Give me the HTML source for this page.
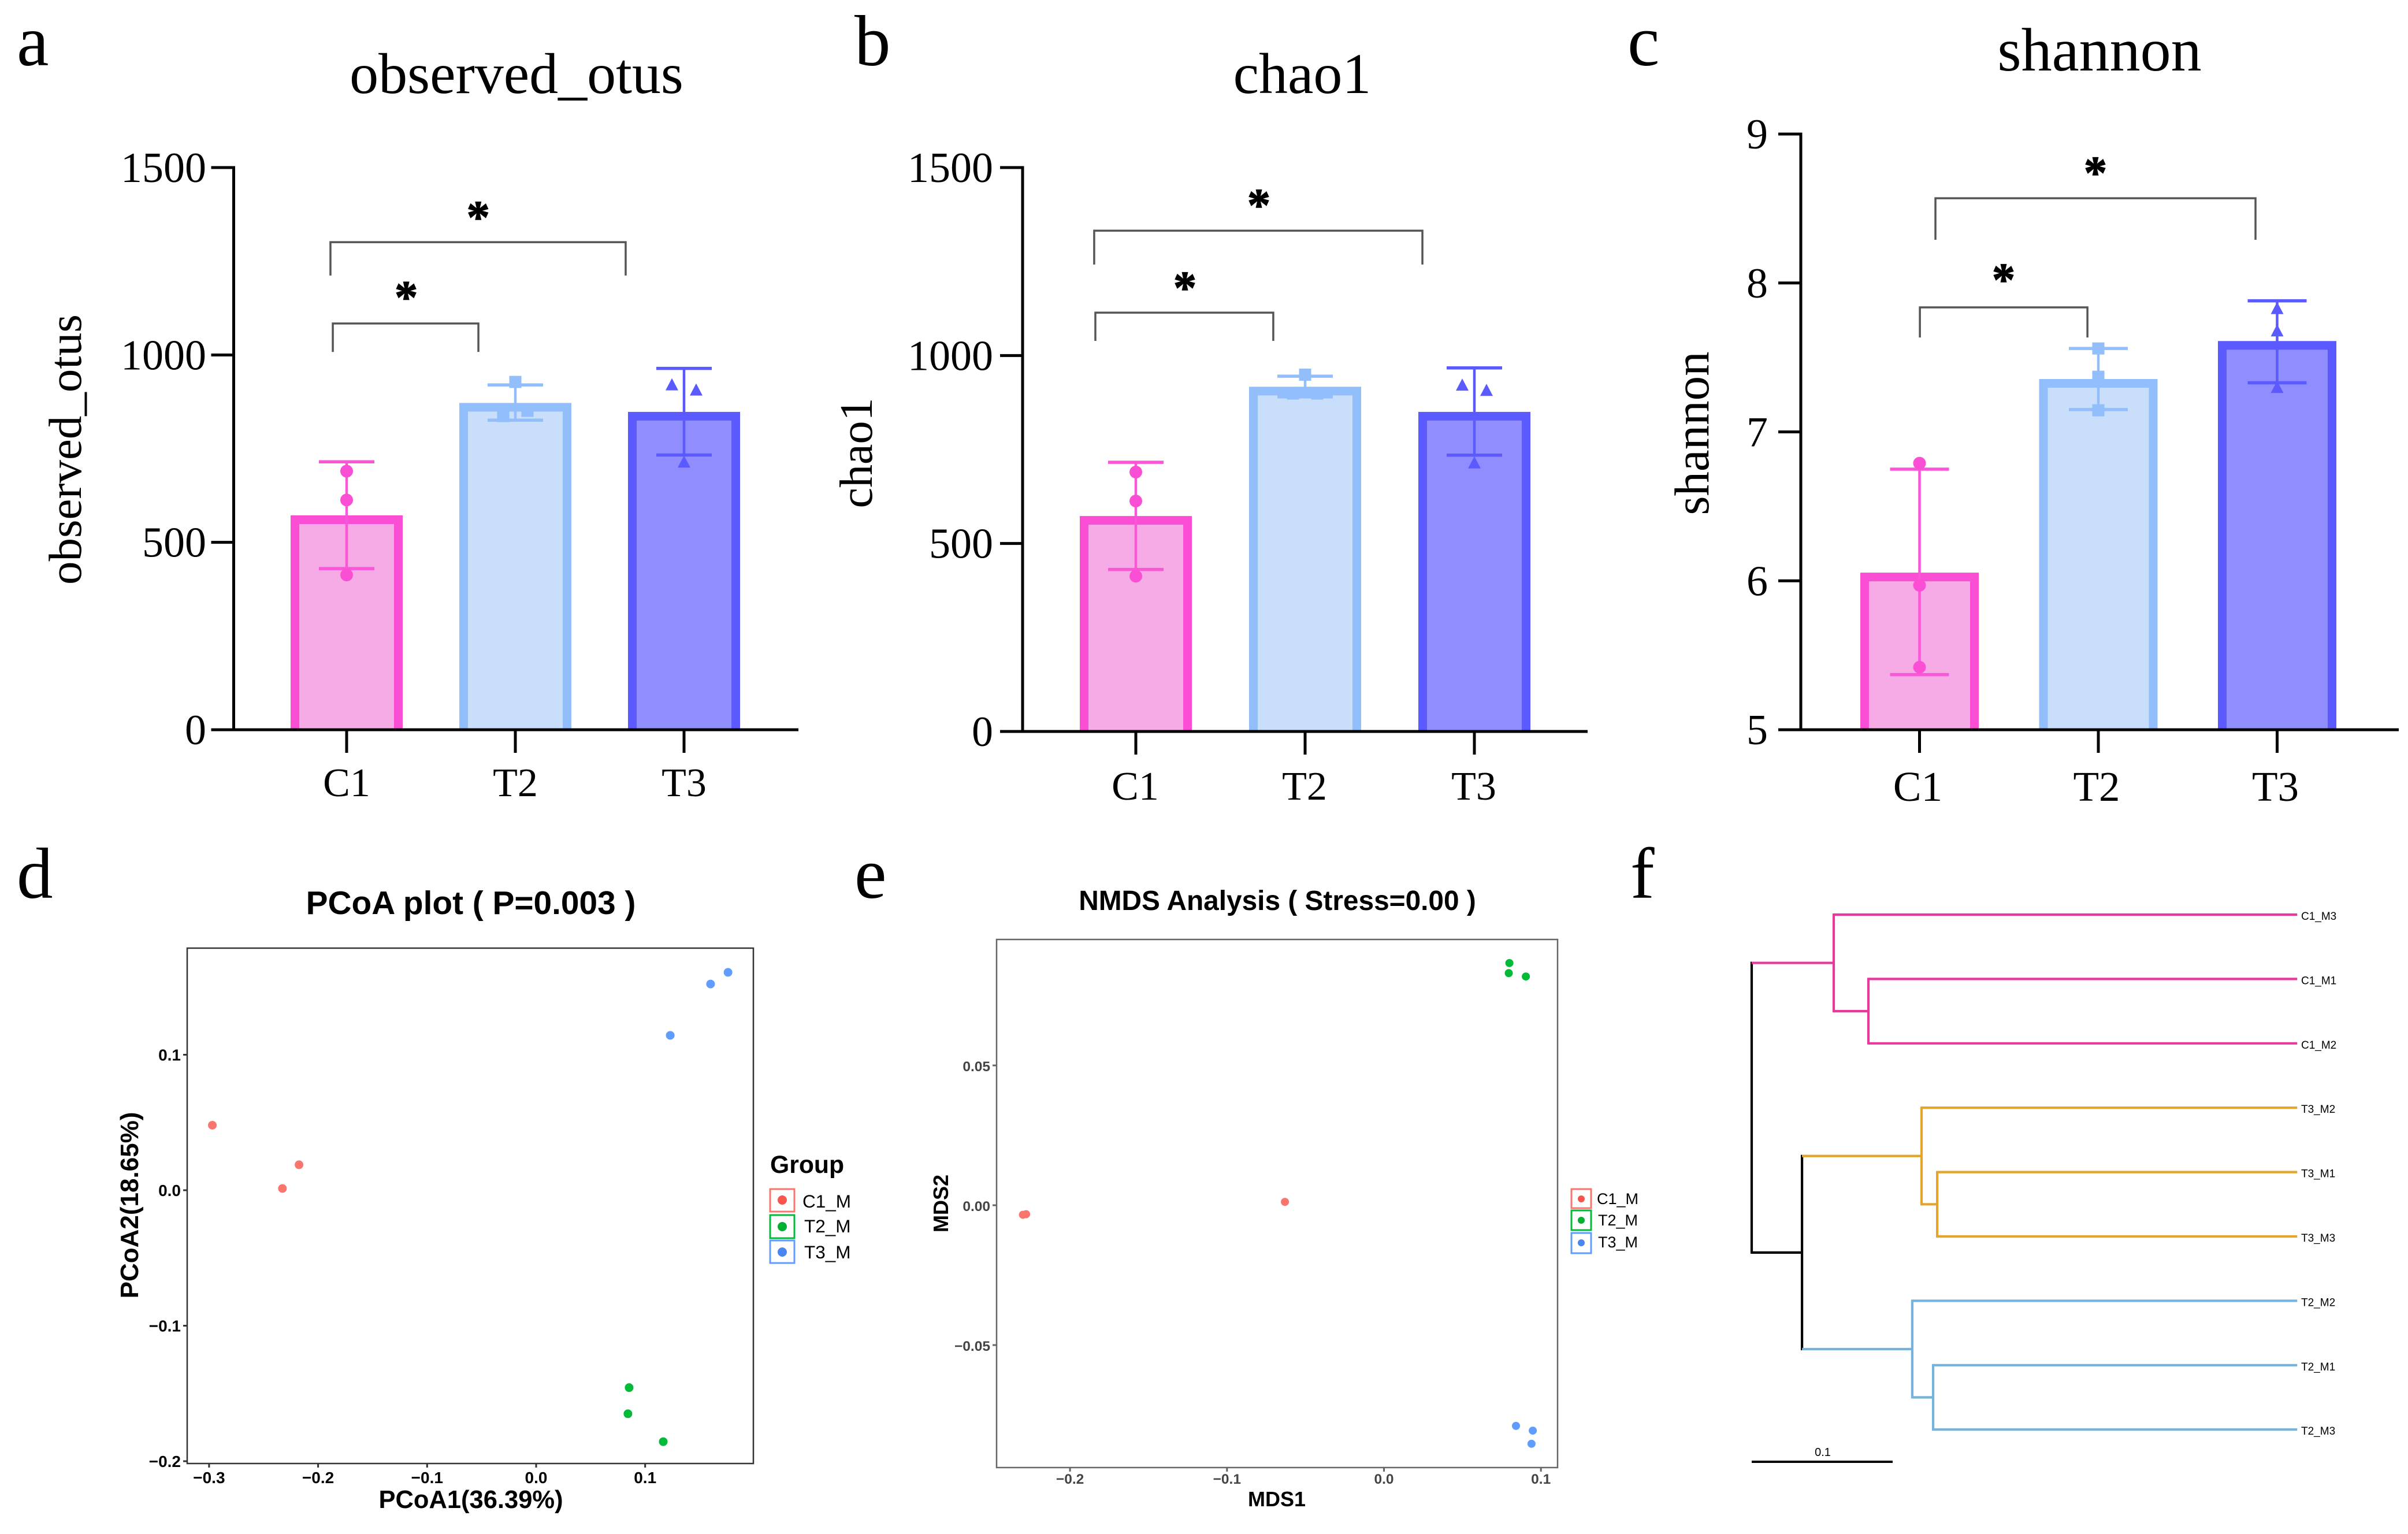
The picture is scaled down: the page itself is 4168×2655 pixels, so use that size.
<!DOCTYPE html>
<html lang="en">
<head>
<meta charset="utf-8">
<title>Alpha diversity, PCoA, NMDS and clustering tree</title>
<style>
html,body{margin:0;padding:0;background:#fff;}
#figure{display:block;width:4168px;height:2655px;background:#fff;overflow:hidden;}
.serif{font-family:"Liberation Serif",serif;fill:#000;}
.sans{font-family:"Liberation Sans",sans-serif;fill:#000;}
.bold{font-weight:700;}
</style>
</head>
<body>
<svg id="figure" xmlns="http://www.w3.org/2000/svg" width="4168" height="2655" viewBox="0 0 4168 2655">
  <rect x="0" y="0" width="4168" height="2655" fill="#fff"/>

  <text class="serif" x="29" y="113" font-size="125">a</text>
  <text class="serif" x="1479" y="113" font-size="125">b</text>
  <text class="serif" x="2817" y="113" font-size="125">c</text>
  <text class="serif" x="29" y="1554" font-size="125">d</text>
  <text class="serif" x="1479" y="1554" font-size="125">e</text>
  <text class="serif" x="2822" y="1554" font-size="125">f</text>

  <text class="serif" x="894" y="161" font-size="100" text-anchor="middle">observed_otus</text>
  <text class="serif" x="2254" y="161" font-size="100" text-anchor="middle">chao1</text>
  <text class="serif" x="3634" y="122" font-size="106" text-anchor="middle">shannon</text>

  <text class="serif" transform="translate(140 778) rotate(-90)" font-size="81" text-anchor="middle">observed_otus</text>
  <text class="serif" transform="translate(1509 784) rotate(-90)" font-size="80" text-anchor="middle">chao1</text>
  <text class="serif" transform="translate(2957 750) rotate(-90)" font-size="85" text-anchor="middle">shannon</text>

  <text class="sans bold" x="815" y="1582" font-size="56.8" text-anchor="middle">PCoA plot ( P=0.003 )</text>
  <text class="sans bold" x="815" y="2610" font-size="43.5" text-anchor="middle">PCoA1(36.39%)</text>
  <text class="sans bold" transform="translate(239 2086) rotate(-90)" font-size="44" text-anchor="middle">PCoA2(18.65%)</text>

  <g>
    <text class="sans bold" x="1333" y="2030" font-size="42.7">Group</text>
    <rect x="1333" y="2058" width="42" height="39" fill="#fff" stroke="#F8766D" stroke-width="3"/>
    <circle cx="1354" cy="2077" r="8" fill="#F8564D"/>
    <text class="sans" x="1389" y="2090" font-size="31.5">C1_M</text>
    <rect x="1333" y="2103" width="42" height="40" fill="#fff" stroke="#00BA38" stroke-width="3"/>
    <circle cx="1354" cy="2123" r="8" fill="#00B030"/>
    <text class="sans" x="1392" y="2133" font-size="31.5">T2_M</text>
    <rect x="1333" y="2147" width="42" height="39" fill="#fff" stroke="#619CFF" stroke-width="3"/>
    <circle cx="1354" cy="2167" r="8" fill="#4A86F0"/>
    <text class="sans" x="1392" y="2178" font-size="31.5">T3_M</text>
  </g>

  <text class="sans bold" x="2211" y="1575" font-size="47.8" text-anchor="middle">NMDS Analysis ( Stress=0.00 )</text>
  <text class="sans bold" x="2210" y="2607" font-size="36" text-anchor="middle">MDS1</text>
  <text class="sans bold" transform="translate(1641 2083) rotate(-90)" font-size="36" text-anchor="middle">MDS2</text>

  <g>
    <rect x="2720" y="2058" width="34" height="33" fill="#fff" stroke="#F8766D" stroke-width="3"/>
    <circle cx="2737" cy="2075" r="6" fill="#F8564D"/>
    <text class="sans" x="2764" y="2084" font-size="27">C1_M</text>
    <rect x="2720" y="2095" width="34" height="34" fill="#fff" stroke="#00BA38" stroke-width="3"/>
    <circle cx="2737" cy="2112" r="6" fill="#00B030"/>
    <text class="sans" x="2766" y="2121" font-size="27">T2_M</text>
    <rect x="2720" y="2134" width="34" height="35" fill="#fff" stroke="#619CFF" stroke-width="3"/>
    <circle cx="2737" cy="2151" r="6" fill="#4A86F0"/>
    <text class="sans" x="2766" y="2159" font-size="27">T3_M</text>
  </g>

  <g id="plots"></g>
</svg>

<script>
/* ---------- bar chart data ---------- */
const barCategories = ['C1', 'T2', 'T3'];

const otusTicks = [0, 500, 1000, 1500];
const otusMeans = [572, 872, 848];
const otusErrLow = [430, 826, 733];
const otusErrHigh = [715, 920, 964];
const otusReplicates = [[690, 613, 413], [928, 837, 851], [921, 907, 715]];

const chaoTicks = [0, 500, 1000, 1500];
const chaoMeans = [573, 917, 850];
const chaoErrLow = [431, 890, 735];
const chaoErrHigh = [716, 945, 967];
const chaoReplicates = [[690, 613, 413], [949, 899, 899], [922, 908, 715]];

const shannonTicks = [5, 6, 7, 8, 9];
const shannonMeans = [6.055, 7.355, 7.61];
const shannonErrLow = [5.37, 7.15, 7.33];
const shannonErrHigh = [6.75, 7.56, 7.88];
const shannonReplicates = [[6.79, 5.97, 5.42], [7.56, 7.37, 7.145], [7.83, 7.68, 7.30]];

/* ---------- scatter data ---------- */
const scatterGroups = ['C1_M', 'T2_M', 'T3_M'];

const pcoaXTicks = [-0.3, -0.2, -0.1, 0, 0.1];
const pcoaYTicks = [-0.2, -0.1, 0, 0.1];
const pcoaC1X = [-0.297, -0.2175, -0.2327];
const pcoaC1Y = [0.048, 0.0188, 0.0013];
const pcoaT2X = [0.0853, 0.0842, 0.1166];
const pcoaT2Y = [-0.1457, -0.165, -0.1856];
const pcoaT3X = [0.176, 0.160, 0.123];
const pcoaT3Y = [0.1608, 0.1522, 0.1143];

const nmdsXTicks = [-0.2, -0.1, 0, 0.1];
const nmdsYTicks = [-0.05, 0, 0.05];
const nmdsC1X = [-0.230, -0.228, -0.0631];
const nmdsC1Y = [-0.0034, -0.0032, 0.0012];
const nmdsT2X = [0.0799, 0.0795, 0.0904];
const nmdsT2Y = [0.0866, 0.083, 0.0818];
const nmdsT3X = [0.0841, 0.0948, 0.0940];
const nmdsT3Y = [-0.0789, -0.0806, -0.0853];

/* ---------- tree data ---------- */
const treeLeaves = ['C1_M3', 'C1_M1', 'C1_M2', 'T3_M2', 'T3_M1', 'T3_M3', 'T2_M2', 'T2_M1', 'T2_M3'];
const treeLeafDepths = [0.387, 0.387, 0.387, 0.387, 0.387, 0.387, 0.387, 0.387, 0.387];
/* merges reference leaves (index) or earlier merges (9 + merge index) */
const treeMergeLeft = [1, 0, 4, 3, 7, 6, 12, 10];
const treeMergeRight = [2, 9, 5, 11, 8, 13, 14, 15];
const treeMergeDepths = [0.0828, 0.0582, 0.1316, 0.1205, 0.1287, 0.1139, 0.0357, 0];
const treeMergeClades = ['pink', 'pink', 'orange', 'orange', 'blue', 'blue', 'black', 'black'];
const treeScaleLength = [0.1];

/* ---------- helpers ---------- */
const SVG_NS = 'http://www.w3.org/2000/svg';
const plots = document.getElementById('plots');

function mk(parent, tag, attrs, text) {
  const el = document.createElementNS(SVG_NS, tag);
  for (const k in attrs) el.setAttribute(k, attrs[k]);
  if (text !== undefined) el.textContent = text;
  parent.appendChild(el);
  return el;
}
function fmtTick(v, digits) {
  return (v < 0 ? '\u2212' : '') + Math.abs(v).toFixed(digits);
}

/* ---------- bar panels ---------- */
const barStroke = ['#FA4FD4', '#92BEFB', '#5A5AFF'];
const barFill = ['#F6ABE7', '#C9DEFA', '#908DFF'];
const barLine = ['#FB55D8', '#92BEFB', '#5A5AFF'];

function drawBarPanel(name, cfg, ticks, means, low, high, reps) {
  const g = mk(plots, 'g', {});
  
  
  const dom0 = ticks[0];
  const dom1 = ticks[ticks.length - 1];
  const yS = v => cfg.y0 - (v - dom0) / (dom1 - dom0) * (cfg.y0 - cfg.yTop);
  const xS = i => cfg.c0 + i * cfg.step;
  const sw = 15;

  barCategories.forEach((cat, i) => {
    const left = xS(i) - cfg.barW / 2;
    const right = xS(i) + cfg.barW / 2;
    const top = yS(means[i]);
    const fill = mk(g, 'rect', {x: left + sw / 2, y: top + sw / 2, width: cfg.barW - sw, height: cfg.y0 - top - sw / 2, fill: barFill[i]});
    
    
    const outline = mk(g, 'path', {d: 'M' + (left + sw / 2) + ' ' + cfg.y0 + 'V' + (top + sw / 2) + 'H' + (right - sw / 2) + 'V' + cfg.y0, fill: 'none', stroke: barStroke[i], 'stroke-width': sw});
    
    
    const cx = xS(i);
    const stem = mk(g, 'line', {x1: cx, x2: cx, y1: yS(low[i]), y2: yS(high[i]), stroke: barLine[i], 'stroke-width': 4.5});
    
    
    [low[i], high[i]].forEach(v => {
      const cap = mk(g, 'line', {x1: cx - cfg.cap / 2, x2: cx + cfg.cap / 2, y1: yS(v), y2: yS(v), stroke: barLine[i], 'stroke-width': 5.5});
      
      
    });
    reps[i].forEach((v, j) => {
      const mx = cx + cfg.jitter[i][j] * 21;
      const my = yS(v);
      let m;
      if (i === 0) m = mk(g, 'circle', {cx: mx, cy: my, r: 11, fill: barStroke[i]});
      else if (i === 1) m = mk(g, 'rect', {x: mx - 10.5, y: my - 10.5, width: 21, height: 21, fill: barStroke[i]});
      else m = mk(g, 'path', {d: 'M' + mx + ' ' + (my - 11) + 'L' + (mx + 11) + ' ' + (my + 10) + 'L' + (mx - 11) + ' ' + (my + 10) + 'Z', fill: barStroke[i]});
      
      
    });
    const tick = mk(g, 'line', {x1: cx, x2: cx, y1: cfg.y0, y2: cfg.y0 + 40, stroke: '#000', 'stroke-width': 5});
    
    
    const lab = mk(g, 'text', {x: cx + cfg.xLabelShift, y: cfg.xLabelY, 'font-size': cfg.xFont, 'text-anchor': 'middle', class: 'serif'}, cat);
    
    
  });

  const yAxis = mk(g, 'line', {x1: cfg.x0, x2: cfg.x0, y1: cfg.yTop - 2.5, y2: cfg.y0 + 2.5, stroke: '#000', 'stroke-width': 5});
  
  
  const xAxis = mk(g, 'line', {x1: cfg.x0 - 39, x2: cfg.xRight, y1: cfg.y0, y2: cfg.y0, stroke: '#000', 'stroke-width': 5});
  
  

  ticks.forEach(v => {
    const t = mk(g, 'line', {x1: cfg.x0 - 39, x2: cfg.x0, y1: yS(v), y2: yS(v), stroke: '#000', 'stroke-width': 5});
    
    
    const lab = mk(g, 'text', {x: cfg.labelRight, y: yS(v) + 25, 'font-size': cfg.yFont, 'text-anchor': 'end', class: 'serif'}, String(v));
    
    
  });

  cfg.brackets.forEach(b => {
    const x1 = cfg.c0 + b.a * cfg.step;
    const x2 = cfg.c0 + b.b * cfg.step;
    const p = mk(g, 'path', {d: 'M' + x1 + ' ' + yS(b.leg) + 'V' + yS(b.top) + 'H' + x2 + 'V' + yS(b.leg), fill: 'none', stroke: '#555', 'stroke-width': 3.5});
    
    
    const s = mk(g, 'text', {x: cfg.c0 + b.sx * cfg.step, y: yS(b.sy) + 36, 'font-size': 80, 'text-anchor': 'middle', class: 'serif bold', stroke: '#000', 'stroke-width': 1.5}, '*');
    
    
  });
}

drawBarPanel('observed-otus', {
  x0: 404.5, xRight: 1382, y0: 1263, yTop: 290, c0: 600, step: 292, barW: 194, cap: 96,
  labelRight: 357, yFont: 74, xFont: 70, xLabelY: 1378, xLabelShift: 0,
  jitter: [[0, 0, 0], [0, -1, 1], [-1, 1, 0]],
  brackets: [
    {a: -0.096, b: 1.654, top: 1301, leg: 1212, sx: 0.78, sy: 1381},
    {a: -0.082, b: 0.781, top: 1084, leg: 1008, sx: 0.353, sy: 1168}
  ]
}, otusTicks, otusMeans, otusErrLow, otusErrHigh, otusReplicates);

drawBarPanel('chao1', {
  x0: 1770, xRight: 2748, y0: 1266, yTop: 290, c0: 1966, step: 293, barW: 194, cap: 96,
  labelRight: 1719, yFont: 74, xFont: 70, xLabelY: 1384, xLabelShift: -1,
  jitter: [[0, 0, 0], [0, -1, 1], [-1, 1, 0]],
  brackets: [
    {a: -0.246, b: 1.693, top: 1332, leg: 1242, sx: 0.727, sy: 1414},
    {a: -0.239, b: 0.812, top: 1114, leg: 1039, sx: 0.29, sy: 1194}
  ]
}, chaoTicks, chaoMeans, chaoErrLow, chaoErrHigh, chaoReplicates);

drawBarPanel('shannon', {
  x0: 3117, xRight: 4152, y0: 1263, yTop: 232, c0: 3322.5, step: 309.5, barW: 205, cap: 102,
  labelRight: 3060, yFont: 74, xFont: 73, xLabelY: 1386, xLabelShift: -3,
  jitter: [[0, 0, 0], [0, 0, 0], [0, 0, 0]],
  brackets: [
    {a: 0.089, b: 1.879, top: 8.569, leg: 8.29, sx: 0.984, sy: 8.775},
    {a: 0.002, b: 0.939, top: 7.836, leg: 7.634, sx: 0.47, sy: 8.057}
  ]
}, shannonTicks, shannonMeans, shannonErrLow, shannonErrHigh, shannonReplicates);

/* ---------- scatter panels ---------- */
const scatterColors = ['#F8766D', '#00BA38', '#619CFF'];

function drawScatter(name, cfg, xTicks, yTicks, xsBy, ysBy) {
  const g = mk(plots, 'g', {});
  
  
  const xS = v => cfg.xZero + v * cfg.xPerUnit;
  const yS = v => cfg.yZero - v * cfg.yPerUnit;
  const frame = mk(g, 'rect', {x: cfg.left, y: cfg.top, width: cfg.right - cfg.left, height: cfg.bottom - cfg.top, fill: 'none', stroke: cfg.frame, 'stroke-width': 2.5});
  
  

  xTicks.forEach(v => {
    const t = mk(g, 'line', {x1: xS(v), x2: xS(v), y1: cfg.bottom, y2: cfg.bottom + 7, stroke: cfg.frame, 'stroke-width': 3});
    
    
    const lab = mk(g, 'text', {x: xS(v), y: cfg.xLabelY, 'font-size': cfg.font, 'text-anchor': 'middle', class: 'sans bold', style: 'fill:' + cfg.tickColor}, fmtTick(v, 1));
    
    
  });
  yTicks.forEach(v => {
    const t = mk(g, 'line', {x1: cfg.left - 7, x2: cfg.left, y1: yS(v), y2: yS(v), stroke: cfg.frame, 'stroke-width': 3});
    
    
    const lab = mk(g, 'text', {x: cfg.left - 11, y: yS(v) + 10, 'font-size': cfg.font, 'text-anchor': 'end', class: 'sans bold', style: 'fill:' + cfg.tickColor}, fmtTick(v, cfg.yDigits));
    
    
  });
  scatterGroups.forEach((grp, i) => {
    xsBy[i].forEach((xv, j) => {
      const c = mk(g, 'circle', {cx: xS(xv), cy: yS(ysBy[i][j]), r: cfg.r, fill: scatterColors[i]});
      
      
    });
  });
}

drawScatter('pcoa', {
  left: 324, right: 1304, top: 1641, bottom: 2533, frame: '#333', tickColor: '#000',
  xZero: 928, xPerUnit: 1887, yZero: 2060, yPerUnit: 2345,
  xLabelY: 2567, font: 28, yDigits: 1, r: 7.5
}, pcoaXTicks, pcoaYTicks, [pcoaC1X, pcoaT2X, pcoaT3X], [pcoaC1Y, pcoaT2Y, pcoaT3Y]);

drawScatter('nmds', {
  left: 1725, right: 2696, top: 1626, bottom: 2540, frame: '#666', tickColor: '#444',
  xZero: 2395.5, xPerUnit: 2717, yZero: 2086, yPerUnit: 4840,
  xLabelY: 2568, font: 24.5, yDigits: 2, r: 7
}, nmdsXTicks, nmdsYTicks, [nmdsC1X, nmdsT2X, nmdsT3X], [nmdsC1Y, nmdsT2Y, nmdsT3Y]);

/* ---------- clustering tree ---------- */
const cladeColors = {pink: '#E6399B', orange: '#E5A52C', blue: '#75B3DC', black: '#000'};
(function drawTree() {
  const g = mk(plots, 'g', {});
  
  
  const rootX = 3032;
  const perUnit = 2440;
  const firstY = 1583;
  const rowH = 111.4;
  const xS = d => rootX + d * perUnit;
  const ys = treeLeaves.map((_, i) => firstY + i * rowH);
  const xs = treeLeafDepths.map(xS);
  const clades = treeLeaves.map(() => null);

  treeMergeLeft.forEach((l, m) => {
    const r = treeMergeRight[m];
    ys.push((ys[l] + ys[r]) / 2);
    xs.push(xS(treeMergeDepths[m]));
    clades.push(treeMergeClades[m]);
  });

  treeLeaves.forEach((leaf, i) => {
    const lab = mk(g, 'text', {x: 3983, y: ys[i] + 9, 'font-size': 19, class: 'sans'}, leaf);
    
    
  });

  treeMergeLeft.forEach((l, m) => {
    const r = treeMergeRight[m];
    const nx = xS(treeMergeDepths[m]);
    const clade = treeMergeClades[m];
    const color = cladeColors[clade];
    const v = mk(g, 'line', {x1: nx, x2: nx, y1: ys[l] - 2, y2: ys[r] + 2, stroke: color, 'stroke-width': 4.2});
    
    
    [l, r].forEach(child => {
      const childClade = child < treeLeaves.length ? clade : clades[child];
      const h = mk(g, 'line', {x1: nx, x2: xs[child], y1: ys[child], y2: ys[child], stroke: cladeColors[childClade], 'stroke-width': 4.2});
      
      
    });
  });

  const bar = mk(g, 'line', {x1: rootX, x2: xS(treeScaleLength[0]), y1: 2530, y2: 2530, stroke: '#000', 'stroke-width': 4});
  
  
  const barLabel = mk(g, 'text', {x: (rootX + xS(treeScaleLength[0])) / 2 + 1, y: 2520, 'font-size': 20, 'text-anchor': 'middle', class: 'sans'}, String(treeScaleLength[0]));
  
  
})();
</script>
</body>
</html>
